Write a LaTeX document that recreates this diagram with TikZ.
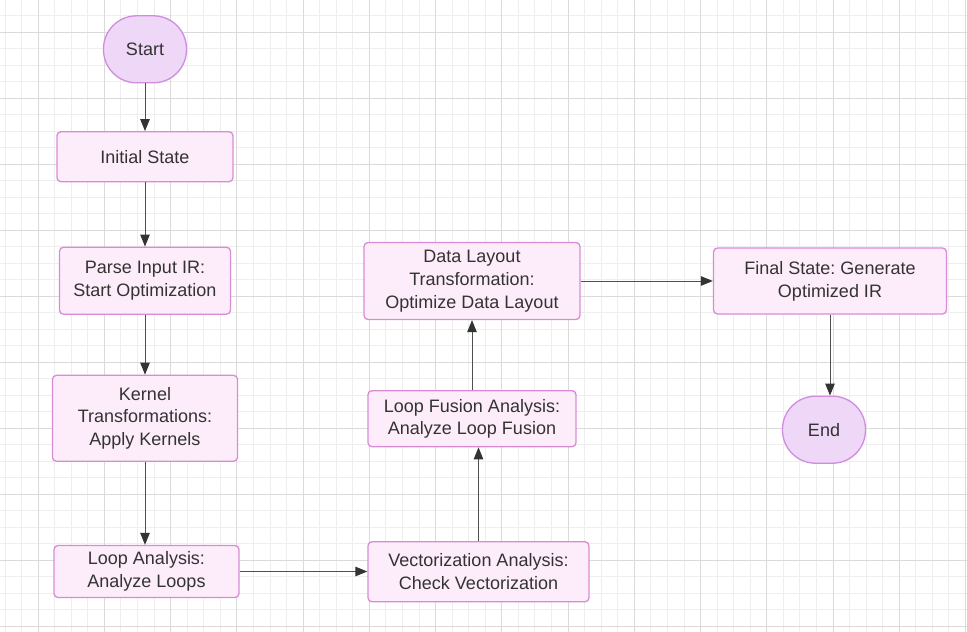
\documentclass[tikz,border=0pt]{standalone}
\usepackage{fontspec}
\setmainfont{Liberation Sans}
\frenchspacing
\usetikzlibrary{arrows.meta,positioning}
\definecolor{boxpink}{HTML}{FDEDFA}
\definecolor{boxedge}{HTML}{D98BD6}
\definecolor{termfill}{HTML}{EFD7F8}
\definecolor{termedge}{HTML}{D08CDF}
\definecolor{inkgray}{HTML}{333333}
\definecolor{linegray}{HTML}{4F4F4F}
\definecolor{gridminor}{HTML}{EEEEEE}
\definecolor{gridmajor}{HTML}{DADADA}

\tikzset{
  stepbox/.style={draw=boxedge,fill=boxpink,line width=1.3pt,rounded corners=4pt,
    align=center,text=inkgray,inner sep=0pt,font=\fontsize{18}{22.7}\selectfont},
  termnode/.style={draw=termedge,fill=termfill,line width=1.3pt,rounded corners=33pt,
    minimum width=83pt,minimum height=67pt,inner sep=0pt,text=inkgray,
    font=\fontsize{18}{22.7}\selectfont},
  flow/.style={draw=linegray,line width=1pt,
    -{Triangle[length=12pt,width=9.5pt,color=inkgray]}}
}

\begin{document}
\begin{tikzpicture}[x=1pt,y=-1pt]
  \useasboundingbox (0,0) rectangle (967,632);
  % Background grid.
  \foreach \k in {0,...,58}
    \draw[gridminor,line width=0.8pt] ({4.97+16.56*\k},0) -- ++(0,632);
  \foreach \k in {0,...,38}
    \draw[gridminor,line width=0.8pt] (0,{15.8+16.5*\k}) -- ++(967,0);
  \foreach \k in {0,...,14}
    \draw[gridmajor,line width=0.8pt] ({38.1+66.25*\k},0) -- ++(0,632);
  \foreach \k in {0,...,9}
    \draw[gridmajor,line width=0.8pt] (0,{32.3+66*\k}) -- ++(967,0);

  % Steps.
  \node[termnode] (start) at (145,49.3) {Start};
  \node[stepbox,minimum width=176pt,minimum height=50pt] (init) at (145,156.7)
    {Initial State};
  \node[stepbox,minimum width=171pt,minimum height=67pt] (parse) at (145,280.7)
    {Parse Input IR:\\Start Optimization};
  \node[stepbox,minimum width=185pt,minimum height=86pt] (kernel) at (145,418.3)
    {Kernel\\Transformations:\\Apply Kernels};
  \node[stepbox,minimum width=185pt,minimum height=52pt] (loopan) at (146.5,571.5)
    {Loop Analysis:\\Analyze Loops};
  \node[stepbox,minimum width=221pt,minimum height=60pt] (vector) at (478.5,571.8)
    {Vectorization Analysis:\\Check Vectorization};
  \node[stepbox,minimum width=208pt,minimum height=56pt] (fusion) at (472,418.7)
    {Loop Fusion Analysis:\\Analyze Loop Fusion};
  \node[stepbox,minimum width=216pt,minimum height=77pt] (layout) at (472,281)
    {Data Layout\\Transformation:\\Optimize Data Layout};
  \node[stepbox,minimum width=233pt,minimum height=66pt] (final) at (830,281)
    {Final State: Generate\\Optimized IR};
  \node[termnode] (end) at (824,429.7) {End};

  % Connectors.
  \draw[flow] (start) -- (init);
  \draw[flow] (init) -- (parse);
  \draw[flow] (parse) -- (kernel);
  \draw[flow] (kernel.south) -- (kernel.south |- loopan.north);
  \draw[flow] (loopan.east) -- (loopan.east -| vector.west);
  \draw[flow] (vector.north) -- (vector.north |- fusion.south);
  \draw[flow] (fusion) -- (layout);
  \draw[flow] (layout) -- (final);
  \draw[flow] (final.south) -- (final.south |- end.north);
\end{tikzpicture}
\end{document}
